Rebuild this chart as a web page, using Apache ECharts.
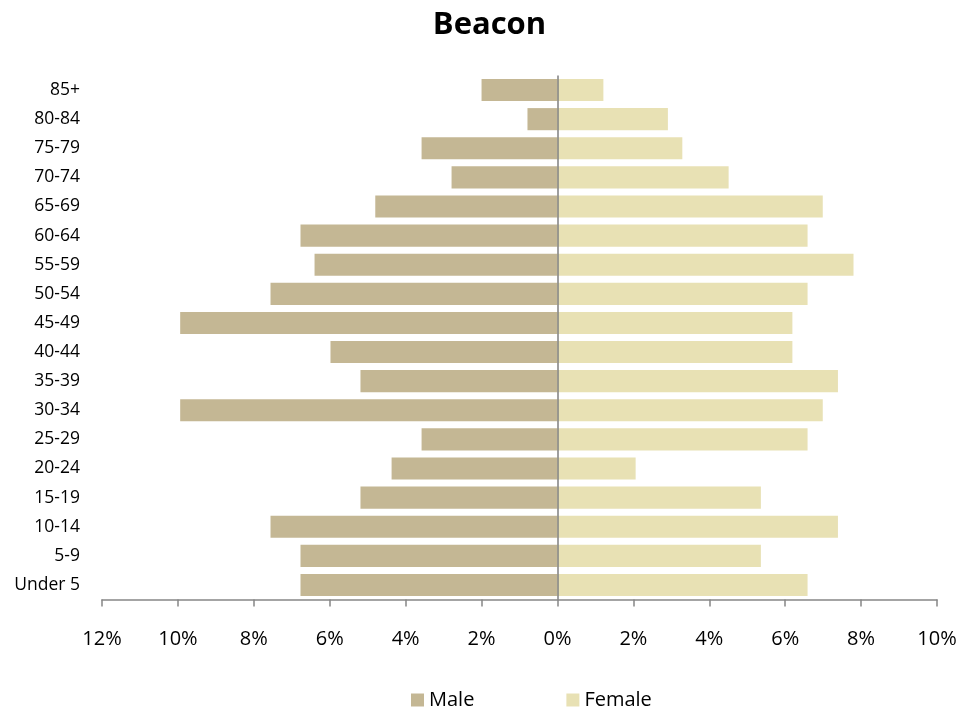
<!DOCTYPE html>
<html>
<head>
<meta charset="utf-8">
<script src="https://cdn.jsdelivr.net/npm/echarts@6/dist/echarts.min.js"></script>
<style>html,body{margin:0;padding:0;background:#fff;}#c{width:979px;height:711px;}</style>
</head>
<body>
<div id="c"></div>
<script>
const categories = ['Under 5','5-9','10-14','15-19','20-24','25-29','30-34','35-39','40-44','45-49','50-54','55-59','60-64','65-69','70-74','75-79','80-84','85+'];
const maleValues = [6.77, 6.77, 7.56, 5.19, 4.37, 3.58, 9.94, 5.19, 5.98, 9.94, 7.56, 6.4, 6.77, 4.8, 2.79, 3.58, 0.79, 2.0];
const femaleValues = [6.59, 5.36, 7.39, 5.36, 2.06, 6.59, 6.99, 7.39, 6.19, 6.19, 6.59, 7.8, 6.59, 6.99, 4.51, 3.29, 2.91, 1.21];
const xTicks = [-12, -10, -8, -6, -4, -2, 0, 2, 4, 6, 8, 10];

const font = 'Open Sans, Lato, sans-serif';
const chart = echarts.init(document.getElementById('c'));
chart.setOption({
  animation: false,
  title: {
    text: 'Beacon', left: 'center', top: 5,
    textStyle: {fontFamily: font, fontSize: 31, fontWeight: 'bold', color: '#000'}
  },
  legend: {
    top: 685, left: 406, itemGap: 92, itemWidth: 13, itemHeight: 13, icon: 'rect',
    textStyle: {fontFamily: font, fontSize: 20, color: '#000'},
    data: ['Male', 'Female']
  },
  grid: {left: 102, right: 42, top: 75.5, bottom: 111.5, containLabel: false},
  xAxis: {
    type: 'value', min: xTicks[0], max: xTicks[xTicks.length - 1], interval: 2,
    axisLine: {show: true, lineStyle: {color: '#868686', width: 1.5}},
    axisTick: {show: true, length: 7, lineStyle: {color: '#868686', width: 1.5}},
    splitLine: {show: false},
    axisLabel: {
      margin: 30, fontFamily: font, fontSize: 20, color: '#000',
      formatter: v => Math.abs(v) + '%'
    }
  },
  yAxis: {
    type: 'category', data: categories,
    axisLine: {show: false}, axisTick: {show: false},
    axisLabel: {margin: 22, fontFamily: font, fontSize: 17.5, color: '#000'}
  },
  series: [
    {
      name: 'Male', type: 'bar', barCategoryGap: '24%', barGap: '-100%',
      itemStyle: {color: '#C4B794'},
      data: maleValues.map(v => -v),
      markLine: {
        silent: true, symbol: 'none', label: {show: false},
        lineStyle: {color: '#7f7f7f', width: 1.5, type: 'solid'},
        data: [{xAxis: 0}]
      }
    },
    {
      name: 'Female', type: 'bar', barCategoryGap: '24%', barGap: '-100%',
      itemStyle: {color: '#E8E1B4'},
      data: femaleValues
    }
  ]
});
</script>
</body>
</html>
